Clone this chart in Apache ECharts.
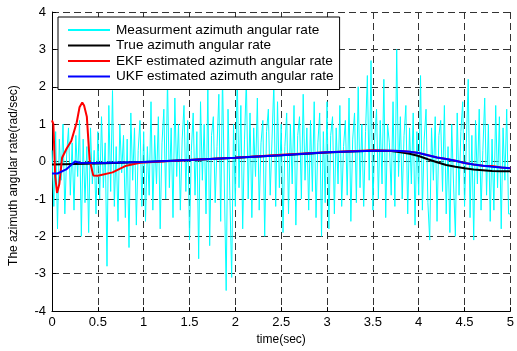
<!DOCTYPE html>
<html><head><meta charset="utf-8">
<script src="https://cdn.jsdelivr.net/npm/echarts@6/dist/echarts.min.js"></script>
<style>html,body{margin:0;padding:0;background:#fff}#c{width:517px;height:351px}</style>
</head><body><div id="c"></div>
<script>
// sample step of the measurement (sec)
var measStep = 0.02;
var measValues = [
 0.3,-1.2,0.8,-1.8,0.6,-0.5,1.0,-1.4,0.2,0.9,
 -0.9,0.5,-1.3,0.7,-0.4,1.1,-2.0,0.6,-1.1,0.4,
 -1.9,0.9,-0.6,0.3,-1.4,0.8,-1.0,1.2,-0.7,0.5,
 -2.8,1.5,-0.8,1.9,-1.2,0.4,-1.6,1.0,-0.3,0.7,
 -1.5,0.6,-2.3,1.3,-0.5,0.9,-1.7,0.3,1.1,-1.2,
 0.8,-1.6,0.4,-0.9,1.6,-1.3,0.7,-0.6,1.2,-1.8,
 0.5,1.4,-1.0,2.2,-0.7,0.9,-1.5,1.7,-0.4,1.0,
 -1.3,0.6,1.5,-0.8,1.1,-2.1,0.3,1.3,-0.9,0.8,
 -2.6,1.6,-0.5,1.0,-1.4,2.0,-2.25,0.7,1.2,-1.1,
 0.4,1.8,-1.6,2.3,-0.6,-3.45,1.4,-0.9,-3.1,1.0,
 -1.2,2.4,-0.7,1.5,-1.8,0.6,2.2,-1.0,1.3,-1.5,
 0.9,-0.4,1.7,-1.3,0.5,1.1,-2.0,0.8,1.4,-0.9,
 0.6,2.1,-1.2,1.6,-0.7,1.0,-1.9,0.4,1.3,-1.4,
 1.0,-0.6,1.5,-1.7,0.7,1.2,-1.0,1.8,-0.5,0.9,
 -1.3,1.1,-0.8,1.6,-1.5,0.5,1.3,-2.0,0.8,-1.1,
 1.6,-1.8,0.7,1.2,-1.4,0.9,-0.6,1.5,-1.2,0.4,
 1.1,-0.9,1.7,-1.6,0.6,1.3,-1.1,2.0,-0.7,1.0,
 -1.2,0.8,2.3,-0.5,2.7,-1.3,0.6,1.4,-1.0,1.1,
 -0.6,2.2,-1.5,1.0,0.5,-0.9,1.6,-1.2,3.0,-0.4,
 1.2,-1.0,0.7,1.5,-1.4,0.9,-0.6,1.3,-1.7,0.8,
 -0.9,2.3,-1.3,0.6,1.4,-1.1,-2.1,0.9,-0.5,1.2,
 -1.6,0.7,1.1,-0.8,1.5,-1.4,0.4,-1.9,1.0,-0.6,
 -2.0,1.3,-0.9,0.8,1.6,-1.2,0.5,2.2,-1.5,0.7,
 -2.1,1.1,-0.6,1.4,-1.3,0.3,1.7,-0.9,1.0,-1.6,
 0.6,-1.3,1.5,-0.7,1.2,-1.8,0.9,-0.5,1.4,-1.4,
 -1.4
];
var trueT = [0,0.5,1.0,1.5,2.0,2.5,3.0,3.25,3.5,3.7,3.8,3.9,4.0,4.1,4.2,4.3,4.4,4.5,4.6,4.7,4.8,4.9,5.0];
var trueV = [-0.08,-0.05,-0.01,0.04,0.1,0.17,0.24,0.27,0.29,0.28,0.25,0.21,0.15,0.06,-0.02,-0.09,-0.14,-0.18,-0.21,-0.23,-0.25,-0.26,-0.26];
var ekfT = [0,0.015,0.035,0.055,0.08,0.11,0.16,0.21,0.27,0.3,0.33,0.35,0.38,0.41,0.45,0.5,0.66,0.81,0.96,1.1,1.5,2.0,2.5,3.0,3.5,3.7,3.8,3.9,4.0,4.1,4.2,4.3,4.4,4.5,4.6,4.7,4.8,4.9,5.0];
var ekfV = [1.1,1.0,-0.4,-0.84,-0.6,0.1,0.35,0.55,1.05,1.45,1.58,1.5,1.2,0.05,-0.37,-0.38,-0.29,-0.11,-0.03,-0.01,0.04,0.1,0.18,0.25,0.3,0.29,0.28,0.26,0.23,0.17,0.11,0.07,0.02,-0.04,-0.08,-0.11,-0.12,-0.16,-0.18];
var ukfT = [0,0.06,0.16,0.25,0.3,0.5,1.0,1.5,2.0,2.5,3.0,3.25,3.5,3.7,3.8,3.9,4.0,4.1,4.2,4.3,4.4,4.5,4.6,4.7,4.8,4.9,5.0];
var ukfV = [-0.32,-0.32,-0.2,0.0,-0.03,-0.04,-0.01,0.04,0.1,0.17,0.25,0.27,0.29,0.29,0.28,0.26,0.23,0.17,0.11,0.07,0.02,-0.04,-0.08,-0.11,-0.14,-0.16,-0.18];
var seriesNames = ['Measurment azimuth angular rate','True azimuth angular rate','EKF estimated azimuth angular rate','UKF estimated azimuth angular rate'];
var xTicks = ['0','0.5','1','1.5','2','2.5','3','3.5','4','4.5','5'];

function pairs(t, v){ return v.map(function(y,i){ return [t[i], y]; }); }
var measData = measValues.map(function(y,i){ return [+(i*measStep).toFixed(2), y]; });

var chart = echarts.init(document.getElementById('c'), null, {renderer:'canvas'});
var font = 'Liberation Sans, Arial, sans-serif';
var gridLine = {show:true, lineStyle:{color:'#333', type:[7,4], width:1}};
chart.setOption({
  animation:false,
  backgroundColor:'#fff',
  grid:{left:52, right:6, top:12, bottom:35, containLabel:false},
  legend:{
    orient:'vertical', left:58, top:17,
    backgroundColor:'#fff', borderColor:'#000', borderWidth:1, borderRadius:0,
    padding:[6,6,6,10], itemWidth:42, itemHeight:12, itemGap:1.5,
    textStyle:{fontFamily:font, fontSize:13.6, lineHeight:14, color:'#000', padding:[0,0,0,1]},
    data:seriesNames.map(function(n){return {name:n, icon:'path://M0,0L42,0L42,2L0,2Z'};})
  },
  xAxis:{
    type:'value', min:0, max:5, interval:0.5,
    name:'time(sec)', nameLocation:'middle', nameGap:19,
    nameTextStyle:{fontFamily:font, fontSize:12, color:'#000'},
    axisLine:{show:true, onZero:false, lineStyle:{color:'#000', width:1}},
    axisTick:{show:true, inside:true, length:4, lineStyle:{color:'#000'}},
    axisLabel:{fontFamily:font, fontSize:13, color:'#000', margin:5,
      formatter:function(v){ var s = xTicks[Math.round(v/0.5)]; return s===undefined? '' : s; }},
    splitLine:gridLine
  },
  yAxis:{
    type:'value', min:-4, max:4, interval:1,
    name:'The azimuth angular rate(rad/sec)', nameLocation:'middle', nameGap:32,
    nameTextStyle:{fontFamily:font, fontSize:12, color:'#000', padding:[0,28,0,0]},
    axisLine:{show:true, onZero:false, lineStyle:{color:'#000', width:1}},
    axisTick:{show:true, inside:true, length:4, lineStyle:{color:'#000'}},
    axisLabel:{fontFamily:font, fontSize:13, color:'#000', margin:6},
    splitLine:gridLine
  },
  series:[
    {name:seriesNames[0], type:'line', data:measData, symbol:'none', lineStyle:{color:'#00FFFF', width:1}, itemStyle:{color:'#00FFFF'}, z:2},
    {name:seriesNames[1], type:'line', data:pairs(trueT,trueV), symbol:'none', lineStyle:{color:'#000', width:2}, itemStyle:{color:'#000'}, z:3},
    {name:seriesNames[2], type:'line', data:pairs(ekfT,ekfV), symbol:'none', lineStyle:{color:'#FF0000', width:2}, itemStyle:{color:'#FF0000'}, z:4},
    {name:seriesNames[3], type:'line', data:pairs(ukfT,ukfV), symbol:'none', lineStyle:{color:'#0000FF', width:2}, itemStyle:{color:'#0000FF'}, z:5}
  ]
});
</script></body></html>
